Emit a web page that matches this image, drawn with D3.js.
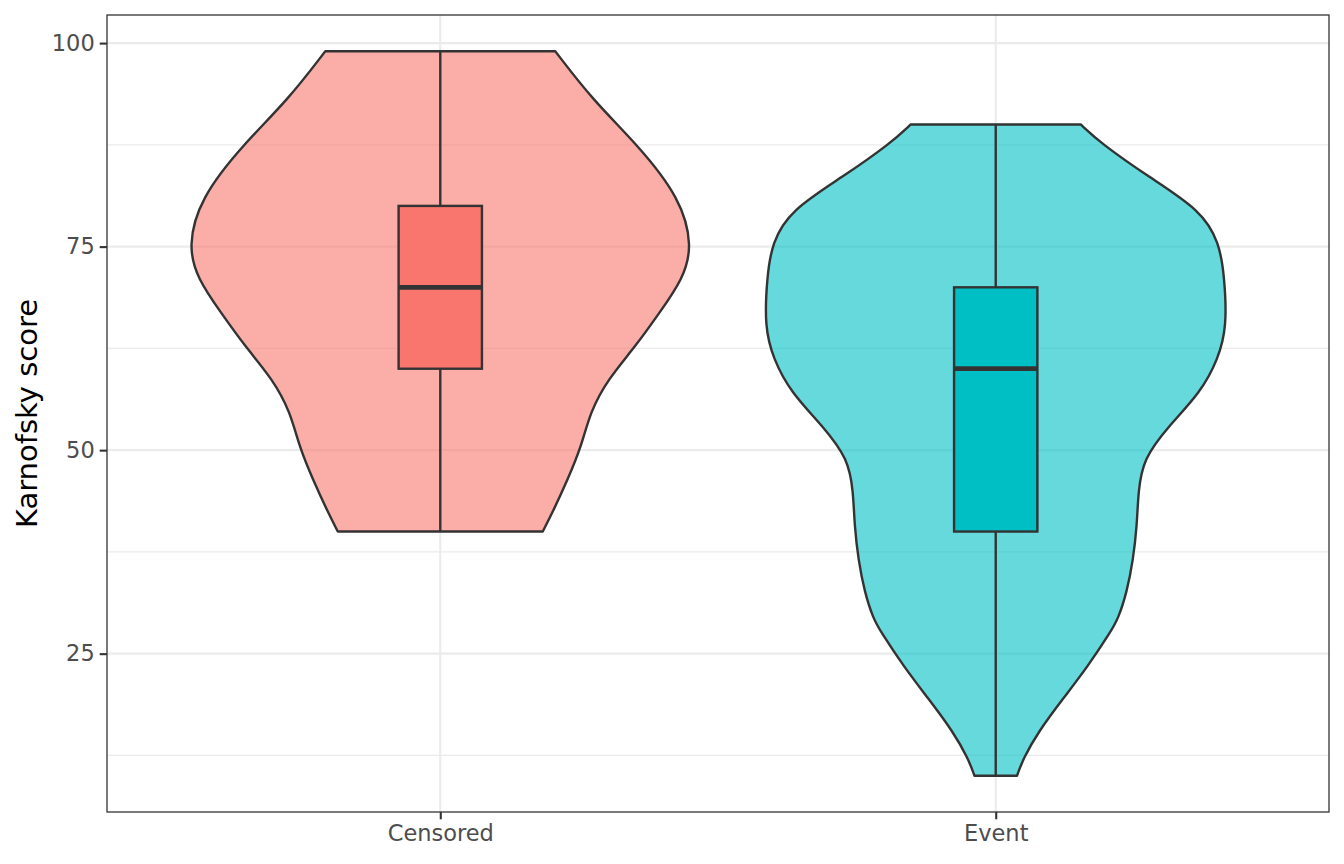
<!DOCTYPE html>
<html>
<head>
<meta charset="utf-8">
<script src="https://cdn.jsdelivr.net/npm/d3@7"></script>
<style>
  body { margin: 0; background: #fff; }
  text { font-family: "DejaVu Sans", sans-serif; }
</style>
</head>
<body>
<div id="chart"></div>
<script>
// Groups and y axis ticks
const groups = ["Censored", "Event"];
const yTicks = [25, 50, 75, 100];
const yMinorTicks = [12.5, 37.5, 62.5, 87.5];

// Violin outlines: [score, relative half width]
const censoredViolin = [
  [99, 0.46], [93, 0.61], [87.5, 0.79], [81, 0.96], [75, 1.01], [71, 0.97],
  [67, 0.88], [62.7, 0.78], [58.7, 0.67], [54.7, 0.60], [50.5, 0.565],
  [46.4, 0.51], [42.4, 0.45], [40, 0.41]
];
const eventViolin = [
  [90, 0.34], [87.7, 0.42], [83.6, 0.61], [79.5, 0.82], [75.5, 0.895],
  [71.3, 0.915], [65.2, 0.925], [61.2, 0.89], [57.1, 0.82], [52.9, 0.69],
  [48.9, 0.59], [44.9, 0.57], [40.7, 0.565], [36.6, 0.55], [32.6, 0.525],
  [29.3, 0.49], [27.7, 0.46], [23.5, 0.37], [19.5, 0.27], [15.4, 0.17],
  [12.1, 0.11], [10, 0.085]
];

// Box plot stats: min, q1, median, q3, max
const censoredBox = [40, 60, 70, 80, 99];
const eventBox = [10, 40, 60, 70, 90];

const violins = [censoredViolin, eventViolin];
const boxes = [censoredBox, eventBox];
const colors = ["#F8766D", "#00BFC4"];

// Dimensions
const W = 1344, H = 864;
const margin = {top: 15, right: 15, bottom: 52, left: 107};
const width = W - margin.left - margin.right,
      height = H - margin.top - margin.bottom;

const svg = d3.select("#chart")
  .append("svg")
    .attr("width", W)
    .attr("height", H)
  .append("g")
    .attr("transform", `translate(${margin.left},${margin.top})`);

// Scales
const x = d3.scalePoint()
    .domain(groups)
    .range([0, width])
    .padding(0.6);
const step = x.step();

const y = d3.scaleLinear()
    .domain([5.55, 103.45])
    .range([height, 0]);

// Grid
svg.append("g")
  .selectAll("line")
  .data(yMinorTicks)
  .join("line")
    .attr("x1", 0).attr("x2", width)
    .attr("y1", d => y(d)).attr("y2", d => y(d))
    .attr("stroke", "#EBEBEB").attr("stroke-width", 1.1);

svg.append("g")
  .selectAll("line")
  .data(yTicks)
  .join("line")
    .attr("x1", 0).attr("x2", width)
    .attr("y1", d => y(d)).attr("y2", d => y(d))
    .attr("stroke", "#EBEBEB").attr("stroke-width", 2.1);

svg.append("g")
  .selectAll("line")
  .data(groups)
  .join("line")
    .attr("x1", d => x(d)).attr("x2", d => x(d))
    .attr("y1", 0).attr("y2", height)
    .attr("stroke", "#EBEBEB").attr("stroke-width", 2.1);

// Violins
const halfMax = 0.45 * step;
groups.forEach((g, i) => {
  const cx = x(g);
  const area = d3.area()
      .y(d => y(d[0]))
      .x0(d => cx - d[1] * halfMax)
      .x1(d => cx + d[1] * halfMax)
      .curve(d3.curveBasis);
  svg.append("path")
      .datum(violins[i])
      .attr("d", area)
      .attr("fill", colors[i])
      .attr("fill-opacity", 0.6)
      .attr("stroke", "#333333")
      .attr("stroke-width", 2.4)
      .attr("stroke-linejoin", "round");
});

// Box plots
const boxHalf = 0.075 * step;
groups.forEach((g, i) => {
  const cx = x(g);
  const [mn, q1, med, q3, mx] = boxes[i];
  const b = svg.append("g");
  b.append("line")
      .attr("x1", cx).attr("x2", cx)
      .attr("y1", y(q3)).attr("y2", y(mx))
      .attr("stroke", "#333333").attr("stroke-width", 2.4);
  b.append("line")
      .attr("x1", cx).attr("x2", cx)
      .attr("y1", y(q1)).attr("y2", y(mn))
      .attr("stroke", "#333333").attr("stroke-width", 2.4);
  b.append("rect")
      .attr("x", cx - boxHalf)
      .attr("y", y(q3))
      .attr("width", boxHalf * 2)
      .attr("height", y(q1) - y(q3))
      .attr("fill", colors[i])
      .attr("stroke", "#333333")
      .attr("stroke-width", 2.4);
  b.append("line")
      .attr("x1", cx - boxHalf).attr("x2", cx + boxHalf)
      .attr("y1", y(med)).attr("y2", y(med))
      .attr("stroke", "#333333").attr("stroke-width", 4.8);
});

// Panel border
svg.append("rect")
    .attr("width", width)
    .attr("height", height)
    .attr("fill", "none")
    .attr("stroke", "#333333")
    .attr("stroke-width", 1.3);

// Axes
const yAxis = svg.append("g")
    .call(d3.axisLeft(y).tickValues(yTicks).tickSize(7.3).tickPadding(5));
const xAxis = svg.append("g")
    .attr("transform", `translate(0,${height})`)
    .call(d3.axisBottom(x).tickSize(7.3).tickPadding(6));

[yAxis, xAxis].forEach(a => {
  a.select(".domain").remove();
  a.selectAll(".tick line").attr("stroke", "#333333").attr("stroke-width", 2.1);
  a.selectAll(".tick text")
      .attr("fill", "#4D4D4D")
      .style("font-family", "'DejaVu Sans', sans-serif")
      .style("font-size", "22.5px");
});

// Y axis label
svg.append("text")
    .attr("text-anchor", "middle")
    .attr("transform", "rotate(-90)")
    .attr("x", -height / 2)
    .attr("y", -margin.left + 37)
    .attr("fill", "#000000")
    .style("font-size", "29px")
    .text("Karnofsky score");
</script>
</body>
</html>
